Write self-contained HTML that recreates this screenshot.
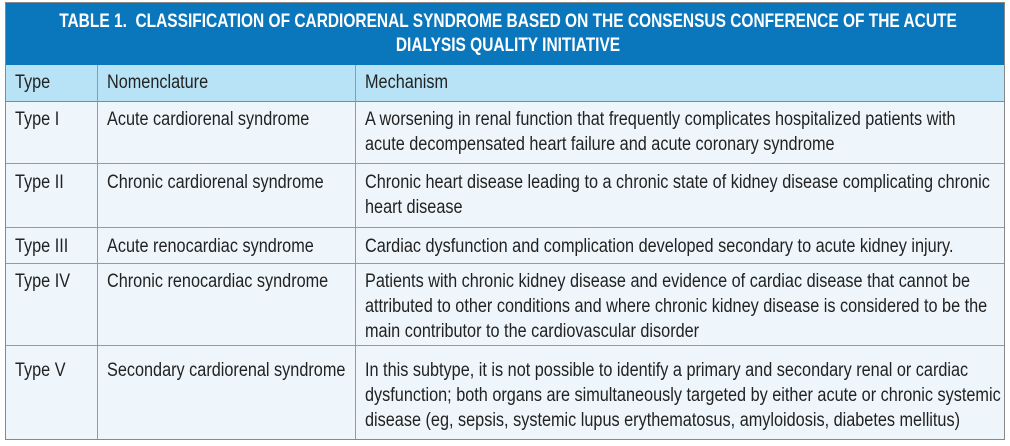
<!DOCTYPE html>
<html><head><style>
html,body{margin:0;padding:0;width:1010px;height:446px;background:#fff;overflow:hidden}
body{font-family:"Liberation Sans",sans-serif;color:#222}
.box{position:absolute;left:5px;top:2px;width:1000px;height:438px;border:1px solid #888;box-sizing:border-box;background:#eef6fb;overflow:hidden}
.title{position:absolute;left:0;top:0;width:998px;height:62px;background:#0a77bd}
.tl{position:absolute;left:-198px;width:1400px;text-align:center;color:#fff;font-weight:bold;font-size:19px;line-height:24px;white-space:nowrap;transform:scaleX(0.815);transform-origin:center}
.hrow{position:absolute;left:0;top:62px;width:998px;height:36px;background:#b8e2f5;border-bottom:1px solid #888}
.line{position:absolute;left:0;width:998px;height:1px;background:#999}
.vl{position:absolute;top:62px;width:1px;height:376px;background:#999}
.t{position:absolute;font-size:19px;line-height:25px;white-space:nowrap;transform:scaleX(0.855);transform-origin:left top}
</style></head><body>
<div class="box">
<div class="title"></div>
<div class="tl" style="top:7px">TABLE 1.&nbsp; CLASSIFICATION OF CARDIORENAL SYNDROME BASED ON THE CONSENSUS CONFERENCE OF THE ACUTE</div>
<div class="tl" style="top:31px">DIALYSIS QUALITY INITIATIVE</div>
<div class="hrow"></div>
<div class="line" style="top:160px"></div>
<div class="line" style="top:224px"></div>
<div class="line" style="top:260px"></div>
<div class="line" style="top:342px"></div>
<div class="vl" style="left:91px"></div>
<div class="vl" style="left:349px"></div>
<div class="t" style="left:9px;top:67px">Type</div>
<div class="t" style="left:101px;top:67px">Nomenclature</div>
<div class="t" style="left:359px;top:67px">Mechanism</div>

<div class="t" style="left:9px;top:104px">Type I</div>
<div class="t" style="left:101px;top:104px">Acute cardiorenal syndrome</div>
<div class="t" style="left:359px;top:104px">A worsening in renal function that frequently complicates hospitalized patients with<br>acute decompensated heart failure and acute coronary syndrome</div>

<div class="t" style="left:9px;top:167px">Type II</div>
<div class="t" style="left:101px;top:167px">Chronic cardiorenal syndrome</div>
<div class="t" style="left:359px;top:167px">Chronic heart disease leading to a chronic state of kidney disease complicating chronic<br>heart disease</div>

<div class="t" style="left:9px;top:231px">Type III</div>
<div class="t" style="left:101px;top:231px">Acute renocardiac syndrome</div>
<div class="t" style="left:359px;top:231px">Cardiac dysfunction and complication developed secondary to acute kidney injury.</div>

<div class="t" style="left:9px;top:266px">Type IV</div>
<div class="t" style="left:101px;top:266px">Chronic renocardiac syndrome</div>
<div class="t" style="left:359px;top:266px">Patients with chronic kidney disease and evidence of cardiac disease that cannot be<br>attributed to other conditions and where chronic kidney disease is considered to be the<br>main contributor to the cardiovascular disorder</div>

<div class="t" style="left:9px;top:355px">Type V</div>
<div class="t" style="left:101px;top:355px">Secondary cardiorenal syndrome</div>
<div class="t" style="left:359px;top:355px">In this subtype, it is not possible to identify a primary and secondary renal or cardiac<br>dysfunction; both organs are simultaneously targeted by either acute or chronic systemic<br>disease (eg, sepsis, systemic lupus erythematosus, amyloidosis, diabetes mellitus)</div>
</div>
</body></html>
